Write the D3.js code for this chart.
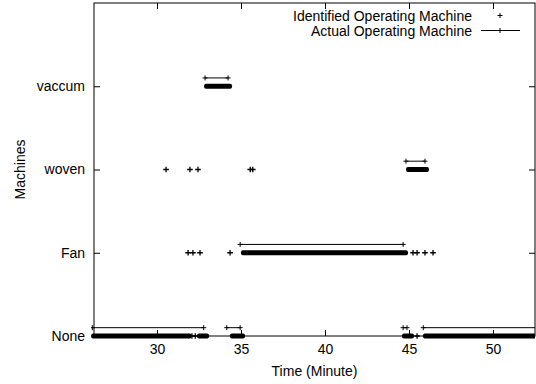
<!DOCTYPE html>
<html>
<head>
<meta charset="utf-8">
<script src="https://cdn.jsdelivr.net/npm/d3@7"></script>
<style>
    body { margin: 0; background: #fff; }
    svg text { font-family: 'Liberation Sans', Arial, sans-serif; font-size: 14px; fill: #000; }
</style>
</head>
<body>
<div class="machines-chart"><svg></svg></div>
<script>
const machines = ['None', 'Fan', 'woven', 'vaccum'];
const xTicks = [30, 35, 40, 45, 50];
const xDomain = [26.25, 52.5];

// actual operating periods (minutes)
const actualMachine = ['None', 'None', 'None', 'None', 'Fan', 'vaccum', 'woven'];
const actualStart = [26.15, 34.15, 44.65, 45.85, 34.95, 32.86, 44.82];
const actualEnd = [32.78, 34.95, 44.88, 53.0, 44.65, 34.23, 45.95];

// identified samples: dense runs
const runMachine = ['None', 'None', 'None', 'None', 'None', 'Fan', 'woven', 'vaccum'];
const runStart = [26.2, 32.5, 34.46, 44.7, 45.95, 35.12, 44.94, 32.92];
const runEnd = [31.95, 32.98, 35.12, 45.18, 53.0, 44.82, 46.07, 34.35];

// identified samples: isolated points
const pointMachine = ['None', 'None', 'None', 'Fan', 'Fan', 'Fan', 'Fan', 'Fan', 'Fan', 'Fan', 'Fan',
    'woven', 'woven', 'woven', 'woven', 'woven'];
const pointTime = [32.08, 32.28, 45.48, 31.85, 32.14, 32.56, 34.35, 45.24, 45.48, 45.95, 46.43,
    30.54, 31.96, 32.44, 35.55, 35.7];

const chart = () => {
    const margin = { top: 3, right: 1, bottom: 48, left: 94 };
    const w = 536;
    const h = 384;
    const width = w - margin.left - margin.right;
    const height = h - margin.top - margin.bottom;
    const offset = 0.1;

    const svg = d3.select('.machines-chart svg').attr('width', w).attr('height', h);

    const x = d3.scaleLinear().domain(xDomain).range([0, width]);
    const y = d3.scaleLinear().domain([0, 4]).range([height, 0]);
    const yIdx = (m) => machines.indexOf(m);

    svg.append('defs').append('clipPath').attr('id', 'clip')
        .append('rect').attr('x', -3).attr('y', -3).attr('width', width + 3).attr('height', height + 6);

    const g = svg.append('g').attr('transform', `translate(${margin.left},${margin.top})`);

    // axes with inward ticks (gnuplot style, mirrored)
    const axisB = d3.axisBottom(x).tickValues(xTicks).tickSizeInner(-6).tickSizeOuter(0).tickPadding(8);
    const axisT = d3.axisTop(x).tickValues(xTicks).tickSizeInner(-6).tickSizeOuter(0).tickFormat('');
    const axisL = d3.axisLeft(y).tickValues([0, 1, 2, 3]).tickFormat((d) => machines[d])
        .tickSizeInner(-6).tickSizeOuter(0).tickPadding(9);
    const axisR = d3.axisRight(y).tickValues([0, 1, 2, 3]).tickFormat('').tickSizeInner(-6).tickSizeOuter(0);

    g.append('g').attr('class', 'axis').attr('transform', `translate(0,${height})`).call(axisB);
    g.append('g').attr('class', 'axis').call(axisT);
    g.append('g').attr('class', 'axis').call(axisL);
    g.append('g').attr('class', 'axis').attr('transform', `translate(${width},0)`).call(axisR);

    g.selectAll('.axis .domain').remove();
    g.selectAll('.axis line').attr('stroke', '#000');
    g.selectAll('.axis text').attr('fill', '#000').style('font-size', '14px');

    g.append('rect')
        .attr('width', width).attr('height', height)
        .attr('fill', 'none').attr('stroke', '#000').attr('stroke-width', 1);

    const plus = (cx, cy, s) => `M${cx - s},${cy}H${cx + s}M${cx},${cy - s}V${cy + s}`;

    const data = g.append('g').attr('clip-path', 'url(#clip)');

    // actual operating machine: line with + at both ends
    const actual = actualMachine.map((m, i) => ({ m, s: actualStart[i], e: actualEnd[i] }));
    data.selectAll('.actual')
        .data(actual)
        .enter()
        .append('path')
        .attr('class', 'actual')
        .attr('fill', 'none')
        .attr('stroke', '#000')
        .attr('stroke-width', 1)
        .attr('d', (d) => {
            const yy = y(yIdx(d.m) + offset);
            return `M${x(d.s)},${yy}H${x(d.e)}` + plus(x(d.s), yy, 2.5) + plus(x(d.e), yy, 2.5);
        });

    // identified operating machine: dense runs of + markers
    const runs = runMachine.map((m, i) => ({ m, s: runStart[i], e: runEnd[i] }));
    data.selectAll('.run')
        .data(runs)
        .enter()
        .append('rect')
        .attr('class', 'run')
        .attr('x', (d) => x(d.s) - 2)
        .attr('y', (d) => y(yIdx(d.m)) - 2.5)
        .attr('width', (d) => x(d.e) - x(d.s) + 4)
        .attr('height', 5)
        .attr('rx', 2)
        .attr('fill', '#000');

    const points = pointMachine.map((m, i) => ({ m, t: pointTime[i] }));
    data.selectAll('.pt')
        .data(points)
        .enter()
        .append('path')
        .attr('class', 'pt')
        .attr('fill', 'none')
        .attr('stroke', '#000')
        .attr('stroke-width', 1.3)
        .attr('d', (d) => plus(x(d.t), y(yIdx(d.m)), 2.8));

    // axis titles
    svg.append('text')
        .attr('x', margin.left + width / 2)
        .attr('y', 376)
        .attr('text-anchor', 'middle')
        .text('Time (Minute)');

    svg.append('text')
        .attr('transform', `translate(25,${margin.top + height / 2}) rotate(-90)`)
        .attr('text-anchor', 'middle')
        .text('Machines');

    // legend
    const legend = svg.append('g');
    legend.append('text').attr('x', 472).attr('y', 20.5).attr('text-anchor', 'end').text('Identified Operating Machine');
    legend.append('text').attr('x', 472).attr('y', 36).attr('text-anchor', 'end').text('Actual Operating Machine');
    legend.append('path').attr('fill', 'none').attr('stroke', '#000').attr('stroke-width', 1)
        .attr('d', plus(500, 15.5, 2.5));
    legend.append('path').attr('fill', 'none').attr('stroke', '#000').attr('stroke-width', 1)
        .attr('d', 'M481,30.5H520' + plus(500, 30.5, 2.5));
};

chart();
</script>
</body>
</html>
